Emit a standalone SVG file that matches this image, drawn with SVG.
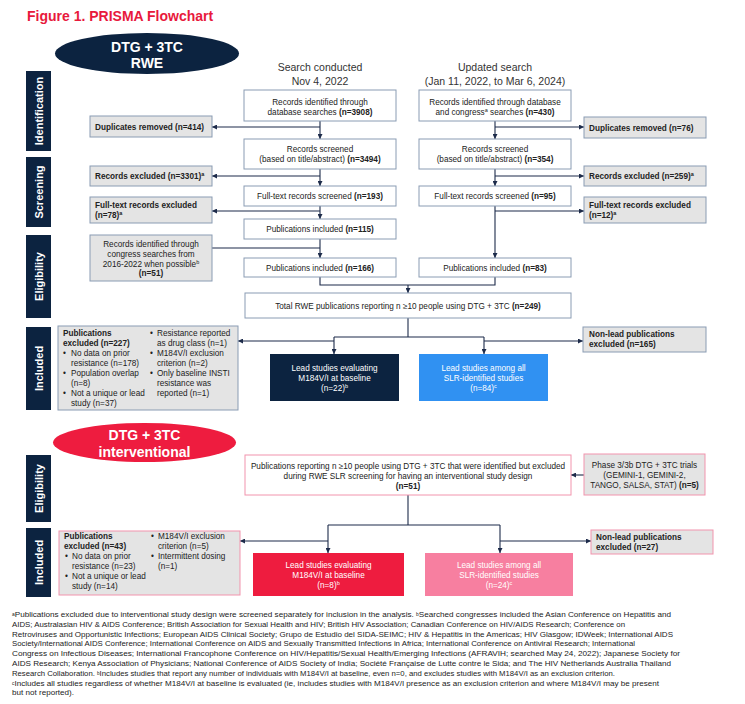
<svg xmlns="http://www.w3.org/2000/svg" width="745" height="704" viewBox="0 0 745 704">
<defs>
<style>
text{font-family:"Liberation Sans",Arial,sans-serif}
.t{font-size:8.2px;fill:#222}
.b{font-weight:bold}
.c{text-anchor:middle}
.w{fill:#fff}
.s{font-size:5.5px;baseline-shift:super}
.fs{font-size:4.8px;baseline-shift:1.5px}
.side{font-size:11px;font-weight:bold;fill:#fff;text-anchor:middle}
.nav{fill:#0c2340}
.bx{fill:#fff;stroke:#8a9cb3;stroke-width:1}
.gx{fill:#e4e4e4;stroke:#8a9cb3;stroke-width:1}
.pk{fill:#fff;stroke:#f294ad;stroke-width:1}
.pg{fill:#e4e4e4;stroke:#f294ad;stroke-width:1}
.hd{font-size:10.5px;fill:#333;text-anchor:middle}
.ln{fill:none;stroke:#1d2b4a;stroke-width:1.1}
.fn{font-size:8px;fill:#222}
</style>
<marker id="ar" markerUnits="userSpaceOnUse" markerWidth="5" markerHeight="5" viewBox="0 0 6 6" refX="6" refY="3" orient="auto">
<path d="M0,0 L6,3 L0,6 z" fill="#1d2b4a"/>
</marker>
</defs>
<rect width="745" height="704" fill="#fff"/>
<text x="27" y="21" font-size="14" font-weight="bold" fill="#e8193c">Figure 1. PRISMA Flowchart</text>

<g id="pill-rwe">
<ellipse cx="147" cy="53.5" rx="92" ry="20.5" class="nav"/>
<text x="147" y="52" font-size="14" font-weight="bold" fill="#fff" text-anchor="middle">DTG + 3TC</text>
<text x="147" y="68" font-size="14" font-weight="bold" fill="#fff" text-anchor="middle">RWE</text>
</g>
<g id="pill-int">
<ellipse cx="144.5" cy="442.5" rx="91.5" ry="19.5" fill="#ee1c3f"/>
<text x="144.5" y="440" font-size="14" font-weight="bold" fill="#fff" text-anchor="middle">DTG + 3TC</text>
<text x="144.5" y="456.5" font-size="14" font-weight="bold" fill="#fff" text-anchor="middle">interventional</text>
</g>

<g id="sidebars">
<g id="sb-ident"><rect x="26" y="71" width="25" height="80" class="nav"/><text class="side" transform="translate(42.5,111) rotate(-90)">Identification</text></g>
<g id="sb-screen"><rect x="26" y="157" width="25" height="70" class="nav"/><text class="side" transform="translate(42.5,192) rotate(-90)">Screening</text></g>
<g id="sb-elig"><rect x="26" y="235" width="25" height="83" class="nav"/><text class="side" transform="translate(42.5,276.5) rotate(-90)">Eligibility</text></g>
<g id="sb-incl"><rect x="26" y="327" width="25" height="83" class="nav"/><text class="side" transform="translate(42.5,368.5) rotate(-90)">Included</text></g>
<g id="sb-elig2"><rect x="26" y="455" width="25" height="67" class="nav"/><text class="side" transform="translate(42.5,488.5) rotate(-90)">Eligibility</text></g>
<g id="sb-incl2"><rect x="26" y="528" width="25" height="69" class="nav"/><text class="side" transform="translate(42.5,562.5) rotate(-90)">Included</text></g>
</g>

<g id="headers">
<text x="320" y="71" class="hd">Search conducted</text>
<text x="320" y="85" class="hd">Nov 4, 2022</text>
<text x="495" y="71" class="hd">Updated search</text>
<text x="495" y="85" class="hd">(Jan 11, 2022, to Mar 6, 2024)</text>
</g>

<g id="connectors">
<path class="ln" d="M320,121 V139" marker-end="url(#ar)"/>
<path class="ln" d="M320,127 H212" marker-end="url(#ar)"/>
<path class="ln" d="M320,169 V186" marker-end="url(#ar)"/>
<path class="ln" d="M320,176 H212" marker-end="url(#ar)"/>
<path class="ln" d="M320,206 V219" marker-end="url(#ar)"/>
<path class="ln" d="M320,211 H212" marker-end="url(#ar)"/>
<path class="ln" d="M320,239 V258" marker-end="url(#ar)"/>
<path class="ln" d="M212,248 H320"/>
<path class="ln" d="M495,121 V139" marker-end="url(#ar)"/>
<path class="ln" d="M495,127 H584" marker-end="url(#ar)"/>
<path class="ln" d="M495,169 V186" marker-end="url(#ar)"/>
<path class="ln" d="M495,176 H584" marker-end="url(#ar)"/>
<path class="ln" d="M495,206 V258" marker-end="url(#ar)"/>
<path class="ln" d="M495,211 H584" marker-end="url(#ar)"/>
<path class="ln" d="M320,277 V285 H495 V277"/>
<path class="ln" d="M408,285 V293" marker-end="url(#ar)"/>
<path class="ln" d="M408,318 V337"/>
<path class="ln" d="M334,337 H484"/>
<path class="ln" d="M334,337 V354" marker-end="url(#ar)"/>
<path class="ln" d="M484,337 V354" marker-end="url(#ar)"/>
<path class="ln" d="M334,341 H238" marker-end="url(#ar)"/>
<path class="ln" d="M484,341 H583" marker-end="url(#ar)"/>
<path class="ln" d="M584,475 H571" marker-end="url(#ar)"/>
<path class="ln" d="M408,495 V525"/>
<path class="ln" d="M328,525 H500"/>
<path class="ln" d="M328,525 V553" marker-end="url(#ar)"/>
<path class="ln" d="M500,525 V553" marker-end="url(#ar)"/>
<path class="ln" d="M328,541 H240" marker-end="url(#ar)"/>
<path class="ln" d="M500,541 H591" marker-end="url(#ar)"/>
</g>

<g id="rec-db">
<rect x="244" y="90" width="152" height="31" class="bx"/>
<text class="t c" x="320" y="104.5">Records identified through</text>
<text class="t c" x="320" y="114.5">database searches <tspan class="b">(n=3908)</tspan></text>
</g>
<g id="rec-upd">
<rect x="419" y="90" width="152" height="31" class="bx"/>
<text class="t c" x="495" y="104.5">Records identified through database</text>
<text class="t c" x="495" y="114.5">and congress<tspan class="s">a</tspan> searches <tspan class="b">(n=430)</tspan></text>
</g>
<g id="screen-a">
<rect x="244" y="139" width="152" height="30" class="bx"/>
<text class="t c" x="320" y="152">Records screened</text>
<text class="t c" x="320" y="162">(based on title/abstract) <tspan class="b">(n=3494)</tspan></text>
</g>
<g id="screen-b">
<rect x="419" y="139" width="152" height="30" class="bx"/>
<text class="t c" x="495" y="152">Records screened</text>
<text class="t c" x="495" y="162">(based on title/abstract) <tspan class="b">(n=354)</tspan></text>
</g>
<g id="ft-a">
<rect x="244" y="186" width="152" height="20" class="bx"/>
<text class="t c" x="320" y="199">Full-text records screened <tspan class="b">(n=193)</tspan></text>
</g>
<g id="ft-b">
<rect x="419" y="186" width="152" height="20" class="bx"/>
<text class="t c" x="495" y="199">Full-text records screened <tspan class="b">(n=95)</tspan></text>
</g>
<g id="pub115">
<rect x="244" y="219" width="152" height="20" class="bx"/>
<text class="t c" x="320" y="232">Publications included <tspan class="b">(n=115)</tspan></text>
</g>
<g id="pub166">
<rect x="244" y="258" width="152" height="19" class="bx"/>
<text class="t c" x="320" y="270.5">Publications included <tspan class="b">(n=166)</tspan></text>
</g>
<g id="pub83">
<rect x="419" y="258" width="152" height="19" class="bx"/>
<text class="t c" x="495" y="270.5">Publications included <tspan class="b">(n=83)</tspan></text>
</g>
<g id="total">
<rect x="245" y="293" width="326" height="25" class="bx"/>
<text class="t c" x="408" y="308.5">Total RWE publications reporting n ≥10 people using DTG + 3TC <tspan class="b">(n=249)</tspan></text>
</g>

<g id="dup-l">
<rect x="90" y="116" width="122" height="21" class="gx"/>
<text class="t b" x="95" y="129.5">Duplicates removed (n=414)</text>
</g>
<g id="exc-l">
<rect x="90" y="166" width="122" height="20" class="gx"/>
<text class="t b" x="95" y="179">Records excluded (n=3301)<tspan class="s">a</tspan></text>
</g>
<g id="ftx-l">
<rect x="90" y="197" width="122" height="26" class="gx"/>
<text class="t b" x="95" y="208">Full-text records excluded</text>
<text class="t b" x="95" y="218">(n=78)<tspan class="s">a</tspan></text>
</g>
<g id="congress">
<rect x="90" y="235" width="122" height="46" class="gx"/>
<text class="t c" x="151" y="247">Records identified through</text>
<text class="t c" x="151" y="257">congress searches from</text>
<text class="t c" x="151" y="266.5">2016-2022 when possible<tspan class="s">b</tspan></text>
<text class="t c b" x="151" y="276">(n=51)</text>
</g>
<g id="dup-r">
<rect x="584" y="117" width="122" height="21" class="gx"/>
<text class="t b" x="589" y="130.5">Duplicates removed (n=76)</text>
</g>
<g id="exc-r">
<rect x="584" y="166" width="122" height="20" class="gx"/>
<text class="t b" x="589" y="179">Records excluded (n=259)<tspan class="s">a</tspan></text>
</g>
<g id="ftx-r">
<rect x="584" y="197" width="122" height="26" class="gx"/>
<text class="t b" x="589" y="208">Full-text records excluded</text>
<text class="t b" x="589" y="217.5">(n=12)<tspan class="s">a</tspan></text>
</g>

<g id="pubexcl-rwe">
<rect x="58" y="326" width="180" height="84" class="gx"/>
<text class="t b" x="63" y="336">Publications</text>
<text class="t b" x="63" y="346">excluded (n=227)</text>
<text class="t" x="63" y="356">•</text><text class="t" x="71" y="356">No data on prior</text>
<text class="t" x="71" y="366">resistance (n=178)</text>
<text class="t" x="63" y="376">•</text><text class="t" x="71" y="376">Population overlap</text>
<text class="t" x="71" y="386">(n=8)</text>
<text class="t" x="63" y="396">•</text><text class="t" x="71" y="396">Not a unique or lead</text>
<text class="t" x="71" y="406">study (n=37)</text>
<text class="t" x="150" y="336">•</text><text class="t" x="157" y="336">Resistance reported</text>
<text class="t" x="157" y="346">as drug class (n=1)</text>
<text class="t" x="150" y="356">•</text><text class="t" x="157" y="356">M184V/I exclusion</text>
<text class="t" x="157" y="366">criterion (n=2)</text>
<text class="t" x="150" y="376">•</text><text class="t" x="157" y="376">Only baseline INSTI</text>
<text class="t" x="157" y="386">resistance was</text>
<text class="t" x="157" y="396">reported (n=1)</text>
</g>
<g id="lead-m184-rwe">
<rect x="270" y="354" width="129" height="47" class="nav"/>
<text class="t c w" x="334.5" y="371">Lead studies evaluating</text>
<text class="t c w" x="334.5" y="381">M184V/I at baseline</text>
<text class="t c w" x="334.5" y="391">(n=22)<tspan class="s">b</tspan></text>
</g>
<g id="lead-all-rwe">
<rect x="419" y="354" width="129" height="47" fill="#3091f2"/>
<text class="t c w" x="483.5" y="371">Lead studies among all</text>
<text class="t c w" x="483.5" y="381">SLR-identified studies</text>
<text class="t c w" x="483.5" y="391">(n=84)<tspan class="s">c</tspan></text>
</g>
<g id="nonlead-rwe">
<rect x="583" y="327" width="123" height="25" class="gx"/>
<text class="t b" x="589" y="337">Non-lead publications</text>
<text class="t b" x="589" y="347">excluded (n=165)</text>
</g>

<g id="int-elig">
<rect x="245" y="455" width="326" height="40" class="pk"/>
<text class="t c" x="408" y="469">Publications reporting n ≥10 people using DTG + 3TC that were identified but excluded</text>
<text class="t c" x="408" y="479">during RWE SLR screening for having an interventional study design</text>
<text class="t c b" x="408" y="489">(n=51)</text>
</g>
<g id="phase3">
<rect x="584" y="454" width="121" height="41" class="pg"/>
<text class="t c" x="644.5" y="468">Phase 3/3b DTG + 3TC trials</text>
<text class="t c" x="644.5" y="478">(GEMINI-1, GEMINI-2,</text>
<text class="t c" x="644.5" y="488">TANGO, SALSA, STAT) <tspan class="b">(n=5)</tspan></text>
</g>
<g id="pubexcl-int">
<rect x="59" y="531" width="181" height="64" class="pg"/>
<text class="t b" x="64" y="539">Publications</text>
<text class="t b" x="64" y="549">excluded (n=43)</text>
<text class="t" x="65" y="559">•</text><text class="t" x="72" y="559">No data on prior</text>
<text class="t" x="72" y="569">resistance (n=23)</text>
<text class="t" x="65" y="579">•</text><text class="t" x="72" y="579">Not a unique or lead</text>
<text class="t" x="72" y="589">study (n=14)</text>
<text class="t" x="151" y="539">•</text><text class="t" x="158" y="539">M184V/I exclusion</text>
<text class="t" x="158" y="549">criterion (n=5)</text>
<text class="t" x="151" y="559">•</text><text class="t" x="158" y="559">Intermittent dosing</text>
<text class="t" x="158" y="569">(n=1)</text>
</g>
<g id="lead-m184-int">
<rect x="253" y="553" width="151" height="43" fill="#ee1c3f"/>
<text class="t c w" x="328.5" y="568">Lead studies evaluating</text>
<text class="t c w" x="328.5" y="578">M184V/I at baseline</text>
<text class="t c w" x="328.5" y="588">(n=8)<tspan class="s">b</tspan></text>
</g>
<g id="lead-all-int">
<rect x="425" y="553" width="148" height="43" fill="#f77fa0"/>
<text class="t c w" x="499" y="568">Lead studies among all</text>
<text class="t c w" x="499" y="578">SLR-identified studies</text>
<text class="t c w" x="499" y="588">(n=24)<tspan class="s">c</tspan></text>
</g>
<g id="nonlead-int">
<rect x="591" y="530" width="122" height="24" class="pg"/>
<text class="t b" x="596" y="539.5">Non-lead publications</text>
<text class="t b" x="596" y="549.5">excluded (n=27)</text>
</g>

<g id="footnote">
<text class="fn" x="12" y="617" textLength="659" lengthAdjust="spacingAndGlyphs"><tspan class="fs">a</tspan>Publications excluded due to interventional study design were screened separately for inclusion in the analysis. <tspan class="fs">b</tspan>Searched congresses included the Asian Conference on Hepatitis and</text>
<text class="fn" x="12" y="626.75" textLength="613" lengthAdjust="spacingAndGlyphs">AIDS; Australasian HIV &amp; AIDS Conference; British Association for Sexual Health and HIV; British HIV Association; Canadian Conference on HIV/AIDS Research; Conference on</text>
<text class="fn" x="12" y="636.5" textLength="661" lengthAdjust="spacingAndGlyphs">Retroviruses and Opportunistic Infections; European AIDS Clinical Society; Grupo de Estudio del SIDA-SEIMC; HIV &amp; Hepatitis in the Americas; HIV Glasgow; IDWeek; International AIDS</text>
<text class="fn" x="12" y="646.25" textLength="623" lengthAdjust="spacingAndGlyphs">Society/International AIDS Conference; International Conference on AIDS and Sexually Transmitted Infections in Africa; International Conference on Antiviral Research; International</text>
<text class="fn" x="12" y="656" textLength="668" lengthAdjust="spacingAndGlyphs">Congress on Infectious Diseases; International Francophone Conference on HIV/Hepatitis/Sexual Health/Emerging Infections (AFRAVIH; searched May 24, 2022); Japanese Society for</text>
<text class="fn" x="12" y="665.75" textLength="659" lengthAdjust="spacingAndGlyphs">AIDS Research; Kenya Association of Physicians; National Conference of AIDS Society of India; Société Française de Lutte contre le Sida; and The HIV Netherlands Australia Thailand</text>
<text class="fn" x="12" y="675.75" textLength="603" lengthAdjust="spacingAndGlyphs">Research Collaboration. <tspan class="fs">b</tspan>Includes studies that report any number of individuals with M184V/I at baseline, even n=0, and excludes studies with M184V/I as an exclusion criterion.</text>
<text class="fn" x="12" y="685.5" textLength="647" lengthAdjust="spacingAndGlyphs"><tspan class="fs">c</tspan>Includes all studies regardless of whether M184V/I at baseline is evaluated (ie, includes studies with M184V/I presence as an exclusion criterion and where M184V/I may be present</text>
<text class="fn" x="12" y="695.25" textLength="62" lengthAdjust="spacingAndGlyphs">but not reported).</text>
</g>
</svg>
